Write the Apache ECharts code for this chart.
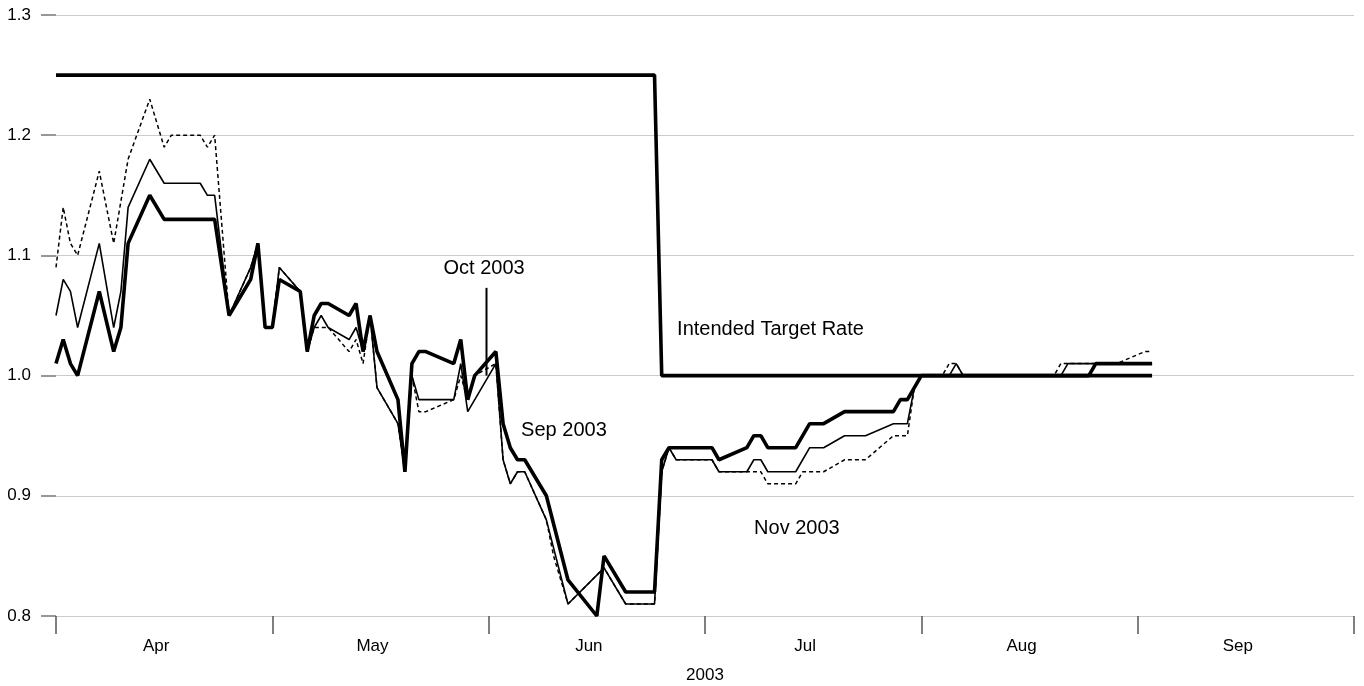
<!DOCTYPE html>
<html>
<head>
<meta charset="utf-8">
<title>Fed funds futures 2003</title>
<script src="https://cdn.jsdelivr.net/npm/echarts/dist/echarts.min.js"></script>
<style>
  html, body { margin: 0; padding: 0; background: #fff; }
  #chart { width: 1364px; height: 686px; }
</style>
</head>
<body>
<div id="chart"></div>
<script>
  // month categories on the x axis (ticks at month boundaries)
  const monthLabels = ['Apr', 'May', 'Jun', 'Jul', 'Aug', 'Sep'];
  const monthDays = [30, 31, 30, 31, 31, 30];

  // Intended target rate
  const targetDates = ['04-01', '06-24', '06-25', '09-03'];
  const targetValues = [1.25, 1.25, 1.00, 1.00];

  // Sep 2003 contract (thick line)
  const sepDates = ['04-01','04-02','04-03','04-04','04-07','04-09','04-10','04-11','04-14','04-16','04-23','04-25','04-28','04-29','04-30',
    '05-01','05-02','05-05','05-06','05-07','05-08','05-09','05-12','05-13','05-14','05-15','05-16','05-19','05-20','05-21','05-22','05-23','05-27','05-28','05-29','05-30',
    '06-02','06-03','06-04','06-05','06-06','06-09','06-12','06-16','06-17','06-20','06-24','06-25','06-26',
    '07-02','07-03','07-07','07-08','07-09','07-10','07-14','07-16','07-18','07-21','07-28','07-29','07-30',
    '08-01','08-25','08-26','09-03'];
  const sepValues = [1.01,1.03,1.01,1.00,1.07,1.02,1.04,1.11,1.15,1.13,1.13,1.05,1.08,1.11,1.04,
    1.04,1.08,1.07,1.02,1.05,1.06,1.06,1.05,1.06,1.02,1.05,1.02,0.98,0.92,1.01,1.02,1.02,1.01,1.03,0.98,1.00,
    1.02,0.96,0.94,0.93,0.93,0.90,0.83,0.80,0.85,0.82,0.82,0.93,0.94,
    0.94,0.93,0.94,0.95,0.95,0.94,0.94,0.96,0.96,0.97,0.97,0.98,0.98,
    1.00,1.00,1.01,1.01];

  // Oct 2003 contract (thin line)
  const octDates = ['04-01','04-02','04-03','04-04','04-07','04-09','04-10','04-11','04-14','04-16','04-21','04-22','04-23','04-25','04-28','04-29','04-30',
    '05-01','05-02','05-05','05-06','05-07','05-08','05-09','05-12','05-13','05-14','05-15','05-16','05-19','05-20','05-21','05-22','05-23','05-27','05-28','05-29',
    '06-02','06-03','06-04','06-05','06-06','06-09','06-12','06-17','06-20','06-24','06-25','06-26','06-27',
    '07-02','07-03','07-07','07-08','07-09','07-10','07-14','07-16','07-18','07-21','07-24','07-28','07-30','07-31',
    '08-01','08-05','08-06','08-07','08-21','08-22','09-03'];
  const octValues = [1.05,1.08,1.07,1.04,1.11,1.04,1.07,1.14,1.18,1.16,1.16,1.15,1.15,1.05,1.09,1.11,1.04,
    1.04,1.09,1.07,1.02,1.04,1.05,1.04,1.03,1.04,1.02,1.05,0.99,0.96,0.92,1.00,0.98,0.98,0.98,1.01,0.97,
    1.01,0.93,0.91,0.92,0.92,0.88,0.81,0.84,0.81,0.81,0.92,0.94,0.93,
    0.93,0.92,0.92,0.93,0.93,0.92,0.92,0.94,0.94,0.95,0.95,0.96,0.96,0.99,
    1.00,1.00,1.01,1.00,1.00,1.01,1.01];

  // Nov 2003 contract (dashed line)
  const novDates = ['04-01','04-02','04-03','04-04','04-07','04-09','04-11','04-14','04-16','04-17','04-21','04-22','04-23','04-25','04-28','04-29','04-30',
    '05-01','05-02','05-05','05-06','05-07','05-08','05-09','05-12','05-13','05-14','05-15','05-16','05-19','05-20','05-21','05-22','05-23','05-27','05-28','05-29','05-30',
    '06-02','06-03','06-04','06-05','06-06','06-09','06-10','06-11','06-12','06-17','06-18','06-19','06-20','06-24','06-25','06-26','06-27',
    '07-02','07-03','07-09','07-10','07-14','07-15','07-18','07-21','07-24','07-28','07-30','07-31',
    '08-01','08-04','08-05','08-06','08-07','08-20','08-21','08-29','09-02','09-03'];
  const novValues = [1.09,1.14,1.11,1.10,1.17,1.11,1.18,1.23,1.19,1.20,1.20,1.19,1.20,1.05,1.09,1.11,1.04,
    1.04,1.09,1.07,1.02,1.04,1.04,1.04,1.02,1.03,1.01,1.05,0.99,0.96,0.92,1.00,0.97,0.97,0.98,1.00,0.98,1.00,
    1.01,0.93,0.91,0.92,0.92,0.88,0.85,0.83,0.81,0.84,0.83,0.82,0.81,0.81,0.92,0.94,0.93,
    0.93,0.92,0.92,0.91,0.91,0.92,0.92,0.93,0.93,0.95,0.95,0.99,
    1.00,1.00,1.01,1.01,1.00,1.00,1.01,1.01,1.02,1.02];

  // text annotations, anchored in axis units [month position, rate]
  const noteTexts = ['Oct 2003', 'Sep 2003', 'Intended Target Rate', 'Nov 2003'];
  const noteAnchors = [[1.979, 1.0895], [2.150, 0.9547], [2.871, 1.038], [3.227, 0.873]];
  const noteAlign = ['center', 'left', 'left', 'left'];
  const octPointer = [[1.990, 1.073], [1.990, 1.000]];

  // 'MM-DD' -> position in months since Apr 1
  function monthPos(d) {
    const m = parseInt(d.slice(0, 2), 10) - 4;
    const day = parseInt(d.slice(3), 10);
    return m + (day - 1) / monthDays[m];
  }
  function pairs(dates, values) {
    return dates.map((d, i) => [monthPos(d), values[i]]);
  }

  const font = '"Liberation Sans", Arial, Helvetica, sans-serif';
  const chart = echarts.init(document.getElementById('chart'));

  chart.setOption({
    animation: false,
    backgroundColor: '#fff',
    grid: { left: 56, right: 10, top: 15, bottom: 70, containLabel: false, outerBoundsMode: 'none' },
    xAxis: [
      {
        type: 'category',
        data: monthLabels,
        boundaryGap: true,
        name: '2003',
        nameLocation: 'middle',
        nameGap: 51,
        nameTextStyle: { fontFamily: font, fontSize: 17, color: '#000' },
        axisLine: { show: false },
        axisTick: { show: true, length: 18, lineStyle: { color: '#555', width: 1.5 } },
        // labels sit near mid-month, a little left of the cell centre
        axisLabel: { margin: 22, padding: [0, 16, 0, 0], fontFamily: font, fontSize: 17, color: '#000' },
        splitLine: { show: false }
      },
      {
        type: 'value',
        min: 0,
        max: 6,
        show: false
      }
    ],
    yAxis: {
      type: 'value',
      min: 0.8,
      max: 1.3,
      interval: 0.1,
      axisLine: { show: false },
      axisTick: { show: true, length: 15, lineStyle: { color: '#777', width: 1.5 } },
      axisLabel: {
        margin: 25,
        fontFamily: font,
        fontSize: 17,
        color: '#000',
        formatter: v => v.toFixed(1)
      },
      splitLine: { show: true, lineStyle: { color: '#cccccc', width: 1.2 } }
    },
    series: [
      {
        name: 'Nov 2003', type: 'line', xAxisIndex: 1, showSymbol: false,
        data: pairs(novDates, novValues),
        lineStyle: { color: '#000', width: 1.5, type: [4, 3] }
      },
      {
        name: 'Oct 2003', type: 'line', xAxisIndex: 1, showSymbol: false,
        data: pairs(octDates, octValues),
        lineStyle: { color: '#000', width: 1.6 }
      },
      {
        name: 'Sep 2003', type: 'line', xAxisIndex: 1, showSymbol: false,
        data: pairs(sepDates, sepValues),
        lineStyle: { color: '#000', width: 3.6 }
      },
      {
        name: 'Intended Target Rate', type: 'line', xAxisIndex: 1, showSymbol: false,
        data: pairs(targetDates, targetValues),
        lineStyle: { color: '#000', width: 3.6 }
      }
    ]
  });

  // place annotations via the chart's own scales
  const toPx = p => chart.convertToPixel({ seriesIndex: 0 }, p);
  const graphics = noteTexts.map((t, i) => {
    const p = toPx(noteAnchors[i]);
    return {
      type: 'text', x: p[0], y: p[1], z: 10,
      style: { text: t, font: '20px ' + font, fill: '#000', align: noteAlign[i], verticalAlign: 'middle' }
    };
  });
  const a = toPx(octPointer[0]), b = toPx(octPointer[1]);
  graphics.push({
    type: 'line', z: 10,
    shape: { x1: a[0], y1: a[1], x2: b[0], y2: b[1] },
    style: { stroke: '#000', lineWidth: 2 }
  });
  chart.setOption({ graphic: graphics });
</script>
</body>
</html>
